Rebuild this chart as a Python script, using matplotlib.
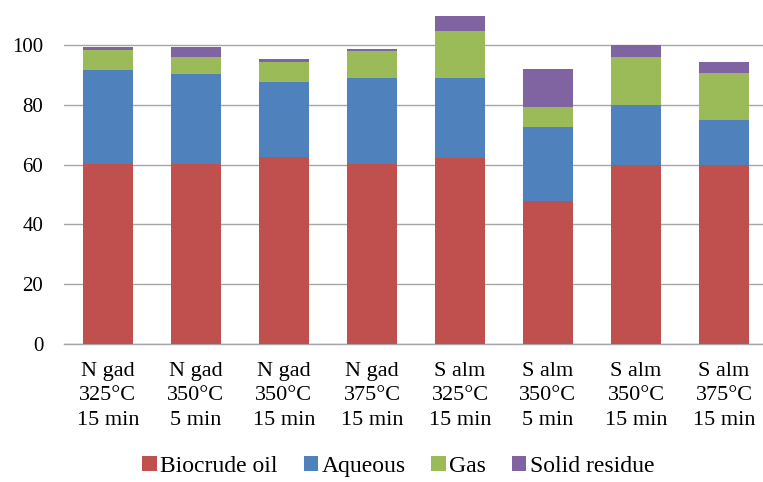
import matplotlib.pyplot as plt
import numpy as np

plt.rcParams['font.family'] = ['Liberation Serif', 'DejaVu Serif']

categories = ['N gad\n325°C\n15 min', 'N gad\n350°C\n5 min', 'N gad\n350°C\n15 min',
              'N gad\n375°C\n15 min', 'S alm\n325°C\n15 min', 'S alm\n350°C\n5 min',
              'S alm\n350°C\n15 min', 'S alm\n375°C\n15 min']
biocrude = [60.3, 60.3, 62.5, 60.3, 62.2, 47.7, 59.9, 59.9]
aqueous = [31.2, 30.0, 25.2, 28.7, 26.8, 25.0, 20.0, 15.0]
gas = [6.9, 5.7, 6.6, 9.0, 15.7, 6.7, 16.1, 15.7]
solid = [0.8, 3.2, 1.1, 0.7, 4.8, 12.5, 3.8, 3.6]

series = [('Biocrude oil', biocrude, '#C0504D'),
          ('Aqueous', aqueous, '#4F81BD'),
          ('Gas', gas, '#9BBB59'),
          ('Solid residue', solid, '#8064A2')]

fig = plt.figure(figsize=(7.63, 4.82), dpi=100)
ax = fig.add_axes([64/763, 138/482, 704/763, 335/482])

x = np.arange(len(categories))
bottom = np.zeros(len(categories))
for name, vals, col in series:
    ax.bar(x, vals, 0.57, bottom=bottom, color=col, label=name, zorder=3)
    bottom += np.array(vals)

ax.set_xlim(-0.5, len(categories) - 0.5)
ax.set_ylim(0, 112)
ax.set_yticks(range(0, 101, 20))
ax.yaxis.grid(True, color='#A6A6A6', linewidth=1.0, zorder=0)
for s in ['top', 'right', 'left']:
    ax.spines[s].set_visible(False)
ax.spines['bottom'].set_color('#A6A6A6')
ax.spines['bottom'].set_linewidth(1.0)
ax.tick_params(length=0)
ax.tick_params(axis='y', pad=15, labelsize=15)
ax.tick_params(axis='x', pad=13, labelsize=16)
ax.set_xticks(x)
ax.set_xticklabels(categories, linespacing=1.38)

fig.legend(loc='center', bbox_to_anchor=(0.522, 0.032), ncol=4, frameon=False,
           fontsize=17, handlelength=0.6, handleheight=0.6, handletextpad=0.15,
           columnspacing=1.1)

fig.savefig('out.png', dpi=100)
